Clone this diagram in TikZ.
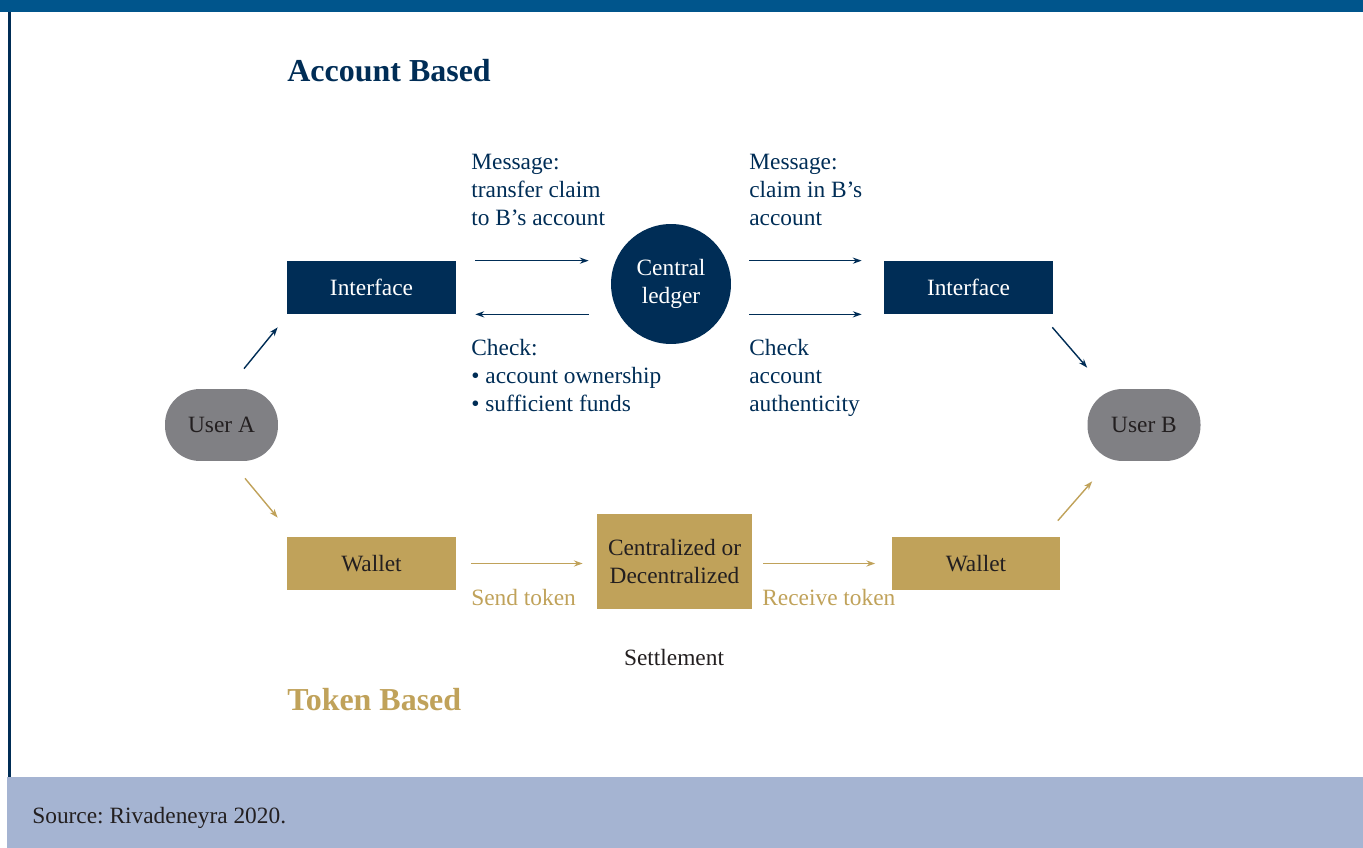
\documentclass[tikz,border=0pt]{standalone}
\usepackage{fontspec}
\setmainfont{Liberation Serif}
\usetikzlibrary{positioning}
\usetikzlibrary{calc}
\usetikzlibrary{arrows.meta}
\frenchspacing

\definecolor{navy}{RGB}{0,45,86}
\definecolor{topblue}{RGB}{0,85,140}
\definecolor{gold}{RGB}{192,162,90}
\definecolor{usergrey}{RGB}{128,128,132}
\definecolor{footblue}{RGB}{165,180,210}
\definecolor{darktext}{RGB}{35,31,32}

\begin{document}
\begin{tikzpicture}[
    x=0.02cm, y=-0.02cm,
    font=\fontsize{13.3}{16}\selectfont
]
\tikzset{
    accbox/.style = {rectangle, fill=navy, text=white, align=center, minimum width=3.38cm, minimum height=1.06cm},
    tokbox/.style = {rectangle, fill=gold, text=darktext, align=center, minimum width=3.38cm, minimum height=1.06cm},
    userbox/.style = {rectangle, rounded corners=0.7cm, fill=usergrey, text=darktext, minimum width=2.26cm, minimum height=1.44cm},
    ledgernode/.style = {circle, fill=navy, text=white, align=center, minimum size=2.4cm, inner sep=0pt},
    acclbl/.style = {text=navy, align=left, anchor=west, inner sep=0pt},
    toklbl/.style = {text=gold, anchor=west, inner sep=0pt},
    edgea/.style = {-{Stealth[length=5pt,width=3.5pt]}, line width=0.8pt, navy},
    edget/.style = {-{Stealth[length=5pt,width=3.5pt]}, line width=0.8pt, gold}
}
\useasboundingbox (0,0) rectangle (1363,848);
% frame
\fill[topblue] (0,0) rectangle (1363,12);
\fill[navy] (8,12) rectangle (11,777);
\fill[footblue] (7,777) rectangle (1363,848);
\node[text=darktext, anchor=west, inner sep=0pt] (source) at (32,818) {Source: Rivadeneyra 2020.};

% titles
\node[text=navy, anchor=west, inner sep=0pt, font=\fontsize{18.2}{22}\selectfont\bfseries] (acctitle) at (287,71) {Account Based};
\node[text=gold, anchor=west, inner sep=0pt, font=\fontsize{18.2}{22}\selectfont\bfseries] (toktitle) at (287,700) {Token Based};

% account based
\node[accbox] (ifL) at (371.5,287.5) {Interface};
\node[ledgernode] (ledger) at (671,284) {Central\\ledger};
\node[accbox] (ifR) at (968.5,287.5) {Interface};
\node[userbox] (uA) at (221.5,425) {User A};
\node[userbox] (uB) at (1144,425) {User B};

\node[acclbl] (msgL) at (471,190) {Message:\\transfer claim\\to B’s account};
\node[acclbl] (msgR) at (749,190) {Message:\\claim in B’s\\account};
\node[acclbl] (chkL) at (471,375.5) {Check:\\\textbullet\ account ownership\\\textbullet\ sufficient funds};
\node[acclbl] (chkR) at (749,378) {Check\\account\\authenticity};

\draw[edgea, shorten <=0.38cm, shorten >=0.44cm] (ifL.north east) -- (ifL.north east -| ledger.west);
\draw[edgea, shorten <=0.44cm, shorten >=0.38cm] (ifL.south east -| ledger.west) -- (ifL.south east);
\draw[edgea, shorten <=0.36cm, shorten >=0.44cm] (ifR.north west -| ledger.east) -- (ifR.north west);
\draw[edgea, shorten <=0.36cm, shorten >=0.44cm] (ifR.south west -| ledger.east) -- (ifR.south west);
\draw[edgea] ($(uA.north)+(22.5,-20)$) -- ($(ifL.south west)+(-9,13)$);
\draw[edgea] ($(ifR.south east)+(-1,13)$) -- ($(uB.north west)+(0,-21)$);

% token based
\node[tokbox] (wL) at (371.5,563.5) {Wallet};
\node[tokbox, minimum width=3.1cm, minimum height=1.9cm] (settle) at (674.5,561.5) {Centralized or\\Decentralized};
\node[tokbox] (wR) at (976,563.5) {Wallet};
\node[text=darktext] (settlelbl) at (674,658) {Settlement};
\node[toklbl] (send) at (471,598) {Send token};
\node[toklbl] (recv) at (762,598) {Receive token};

\draw[edget, shorten <=0.3cm, shorten >=0.28cm] (wL.east) -- (wL.east -| settle.west);
\draw[edget, shorten <=0.22cm, shorten >=0.32cm] (wR.west -| settle.east) -- (wR.west);
\draw[edget] ($(uA.south)+(23.5,17)$) -- ($(wL.north west)+(-9,-19)$);
\draw[edget] ($(wR.north east)+(-3,-16)$) -- ($(uB.south west)+(5,20)$);
\end{tikzpicture}
\end{document}
